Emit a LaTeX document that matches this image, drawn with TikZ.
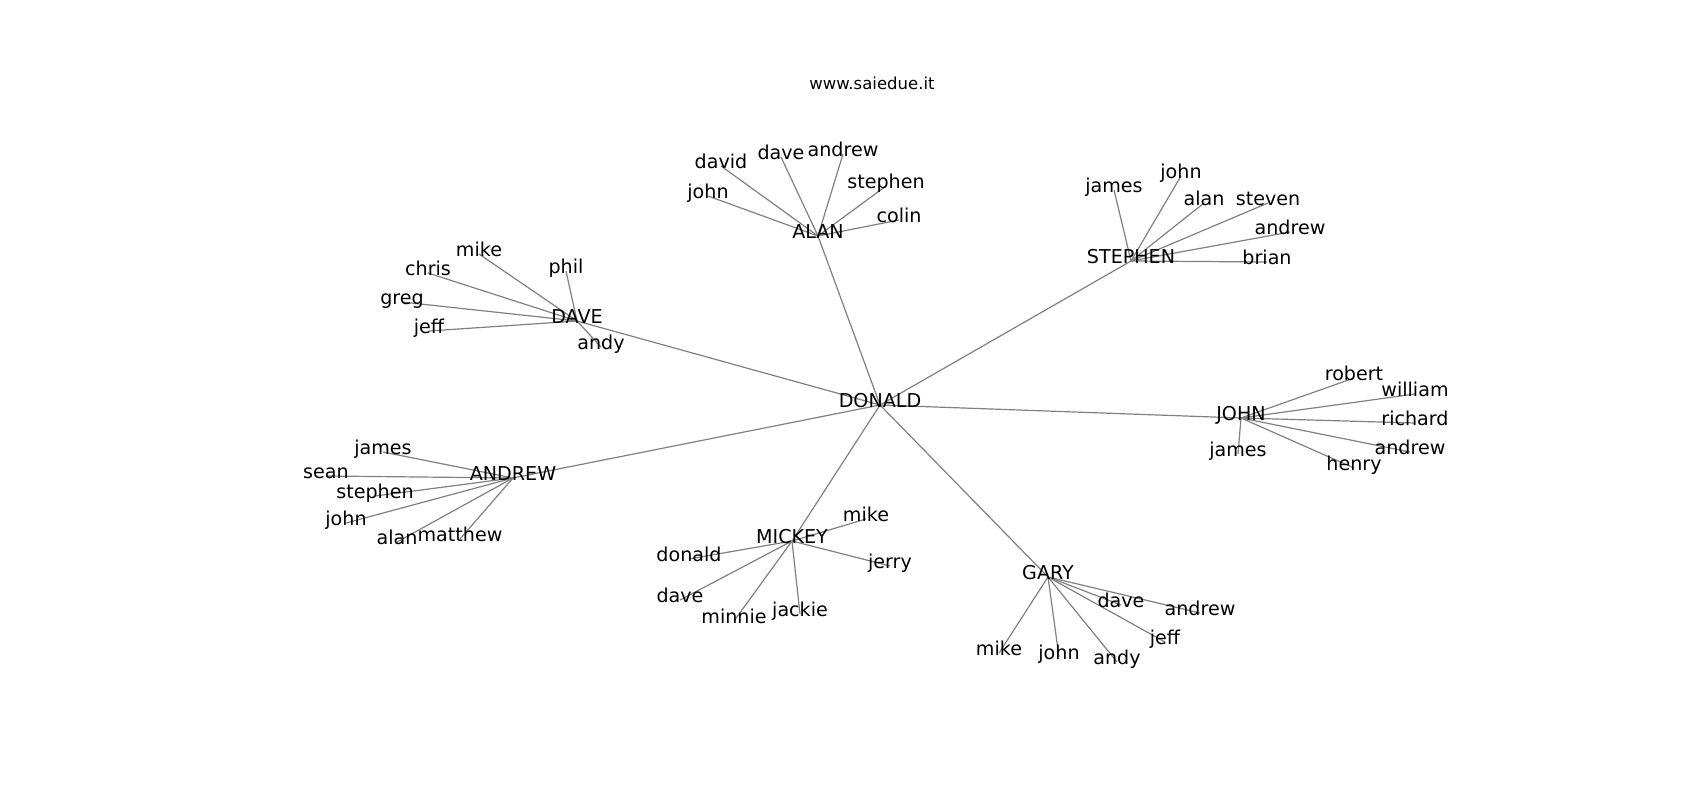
\documentclass[tikz,border=0pt]{standalone}
\usepackage{fontspec}
\setmainfont{DejaVu Sans}
\usepackage{tikz}
\usetikzlibrary{backgrounds}

\newcommand{\leaflist}{
  alan/david/721/166, alan/john/708/196, alan/dave/781/157,
  alan/andrew/843/154, alan/stephen/886/186, alan/colin/899/220,
  stephen/james/1114/190, stephen/john/1181/176, stephen/alan/1204/203,
  stephen/steven/1268/203, stephen/andrew/1290/232, stephen/brian/1267/262,
  dave/mike/479/254, dave/phil/566/271, dave/chris/428/273,
  dave/greg/402/302, dave/jeff/429/331, dave/andy/601/347,
  john/robert/1354/378, john/william/1415/394, john/richard/1415/423,
  john/andrew/1410/452, john/henry/1354/468, john/james/1238/454,
  andrew/james/383/452, andrew/sean/326/476, andrew/stephen/375/496,
  andrew/john/346/523, andrew/alan/397/542, andrew/matthew/460/539,
  mickey/mike/866/519, mickey/jerry/890/566, mickey/donald/689/559,
  mickey/dave/680/600, mickey/minnie/734/621, mickey/jackie/800/614,
  gary/dave/1121/605, gary/andrew/1200/613, gary/jeff/1165/642,
  gary/mike/999/653, gary/john/1059/657, gary/andy/1117/662}

\begin{document}
\begin{tikzpicture}[x=1pt, y=-1pt,
  lbl/.style={inner sep=0pt, text height=0.76em, text depth=0.24em, font=\fontsize{19.1}{21}\selectfont},
  sitetitle/.style={inner sep=0pt, anchor=base, font=\fontsize{16.5}{18}\selectfont},
  edge/.style={draw=gray, line width=1.2pt}]
  \useasboundingbox (0,0) rectangle (1700,800);
  \node[sitetitle] (site) at (872,89) {www.saiedue.it};
  % centre and hubs
  \node[lbl] (donald) at (880,405) {DONALD};
  \node[lbl] (alan) at (818,236) {ALAN};
  \node[lbl] (stephen) at (1131,261) {STEPHEN};
  \node[lbl] (dave) at (577,321) {DAVE};
  \node[lbl] (john) at (1241,418) {JOHN};
  \node[lbl] (andrew) at (513,478) {ANDREW};
  \node[lbl] (mickey) at (792,541) {MICKEY};
  \node[lbl] (gary) at (1048,577) {GARY};
  % leaves
  \foreach \hub/\txt/\px/\py in \leaflist
    \node[lbl] (\hub-\txt) at (\px,\py) {\txt};
  % edges under the labels
  \begin{scope}[on background layer]
    \foreach \hub in {alan, stephen, dave, john, andrew, mickey, gary}
      \draw[edge] (donald.center) -- (\hub.center);
    \foreach \hub/\txt/\px/\py in \leaflist
      \draw[edge] (\hub.center) -- (\hub-\txt.center);
  \end{scope}
\end{tikzpicture}
\end{document}
